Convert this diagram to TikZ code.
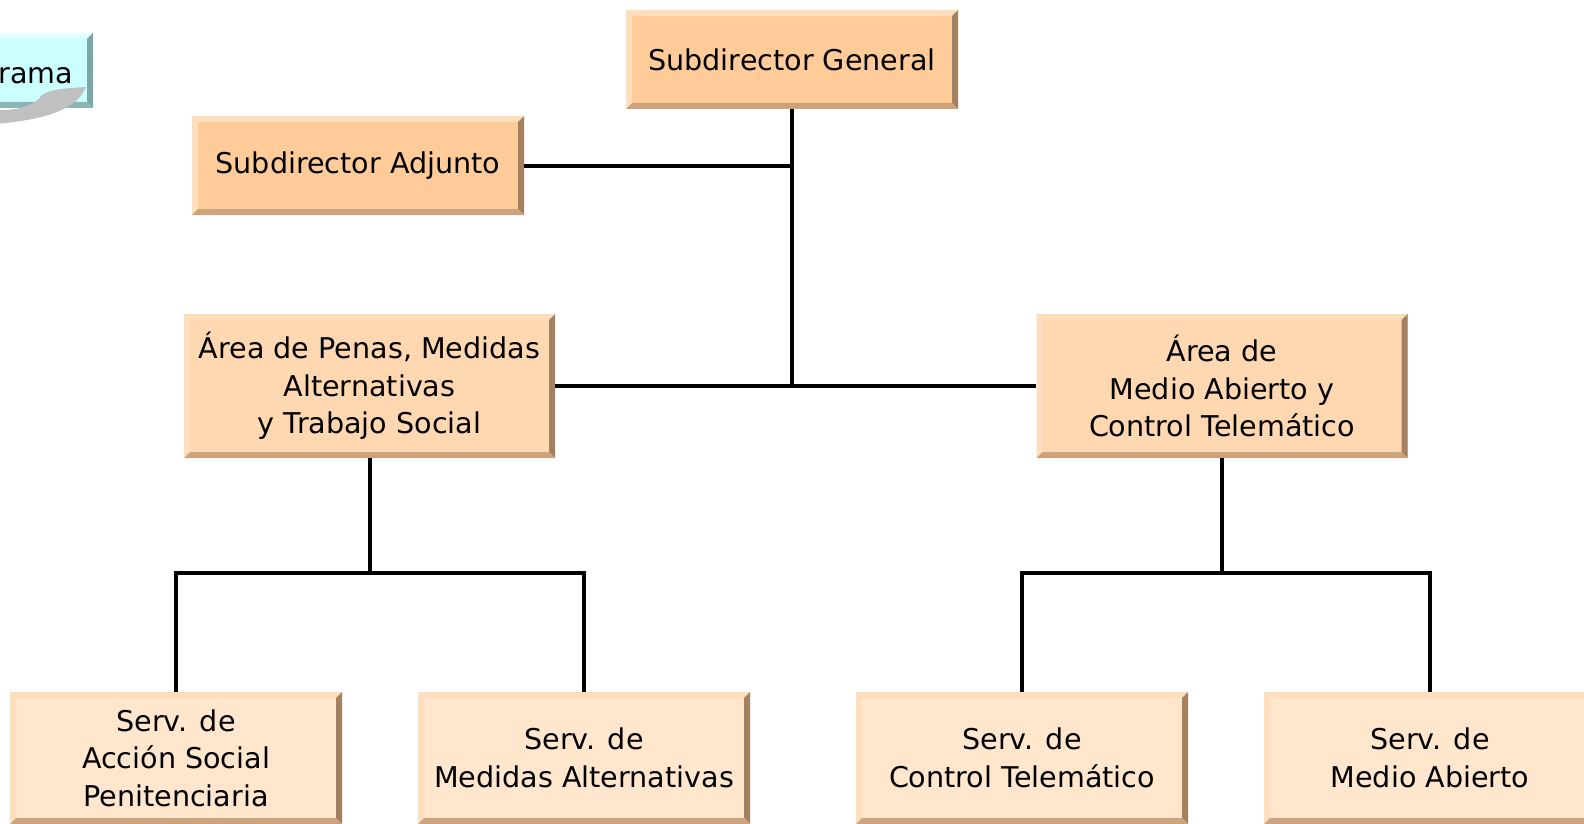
\documentclass[tikz,border=0pt]{standalone}
\usepackage{fontspec}
\setmainfont{DejaVu Sans}
\usepackage{xcolor}
\usepackage{tikz}
\usetikzlibrary{positioning,calc}
\definecolor{headfill}{RGB}{255,204,153}
\definecolor{areafill}{RGB}{255,216,178}
\definecolor{servfill}{RGB}{255,230,204}
\definecolor{bevlight}{RGB}{255,222,189}
\definecolor{bevdark}{RGB}{163,128,96}
\definecolor{bevbottom}{RGB}{204,163,122}
\definecolor{progfill}{RGB}{204,255,255}
\definecolor{proglight}{RGB}{228,255,255}
\definecolor{progdark}{RGB}{122,168,168}
\definecolor{curl}{RGB}{192,192,192}
\newcommand{\bv}{3pt}

\tikzset{
  bevelbox/.style n args={4}{fill=#1, inner sep=0pt, align=center,
    font=\fontsize{14.3pt}{18.7pt}\selectfont,
    path picture={
      \coordinate (bnw) at (path picture bounding box.north west);
      \coordinate (bne) at (path picture bounding box.north east);
      \coordinate (bsw) at (path picture bounding box.south west);
      \coordinate (bse) at (path picture bounding box.south east);
      % top and left bevel
      \fill[#2] (bnw) -- (bne) -- ([shift={(-\bv,-\bv)}]bne) -- ([shift={(\bv,-\bv)}]bnw) -- cycle;
      \fill[#2] (bnw) -- ([shift={(\bv,-\bv)}]bnw) -- ([shift={(\bv,\bv)}]bsw) -- (bsw) -- cycle;
      % right and bottom bevel
      \fill[#3] (bne) -- (bse) -- ([shift={(-\bv,\bv)}]bse) -- ([shift={(-\bv,-\bv)}]bne) -- cycle;
      \fill[#4] (bsw) -- ([shift={(\bv,\bv)}]bsw) -- ([shift={(-\bv,\bv)}]bse) -- (bse) -- cycle;
    }},
  orgbox/.style={bevelbox={#1}{bevlight}{bevdark}{bevbottom}},
  headbox/.style={orgbox=headfill, minimum width=166pt, minimum height=49.5pt},
  areabox/.style={orgbox=areafill, minimum width=185.5pt, minimum height=72pt},
  servbox/.style={orgbox=servfill, minimum width=166pt, minimum height=66pt},
  link/.style={line width=2pt, black},
}

\begin{document}
\begin{tikzpicture}[x=0.5pt, y=-0.5pt]
    \useasboundingbox (0,0) rectangle (1584,824);

    % Corner tab (cut off at the page edge)
    \node[bevelbox={progfill}{proglight}{progdark}{progdark!85}, minimum width=60pt,
        minimum height=37.5pt, text width=40pt, align=right] (prog) at (33,70.5)
        {\raisebox{-2.5pt}[\height][\depth]{rama}};
    \fill[curl] (-5,110) .. controls (20,111) and (35,105) .. (42,95)
        .. controls (50,89) and (70,88) .. (86,87)
        .. controls (78,106) and (55,119) .. (-5,124) -- cycle;

    % Direction
    \node[headbox] (gen) at (792,59.5) {Subdirector General};
    \node[headbox] (adj) at (358,165.5) {Subdirector Adjunto};

    % Areas
    \node[areabox] (areaPM) at (369.5,386) {Área de Penas, Medidas\\Alternativas\\y Trabajo Social};
    \node[areabox] (areaMA) at (1222,386) {Área de\\Medio Abierto y\\Control Telemático};

    % Services
    \node[servbox] (servAS) at (176,758) {Serv. de\\Acción Social\\Penitenciaria};
    \node[servbox] (servMA) at (584,758) {Serv. de\\Medidas Alternativas};
    \node[servbox] (servCT) at (1022,758) {Serv. de\\Control Telemático};
    \node[servbox] (servAb) at (1430,758) {Serv. de\\Medio Abierto};

    % Connectors
    \coordinate (hub) at (gen.south |- areaPM.east);
    \draw[link] (gen.south) -- (hub);
    \draw[link] (adj.east) -- (adj.east -| gen.south);
    \draw[link] (areaPM.east) -- (areaMA.west);

    \coordinate (forkPM) at (369.5,573);
    \draw[link] (areaPM.south) -- (forkPM);
    \draw[link] (servAS.north) |- (forkPM -| servMA.north) -- (servMA.north);

    \coordinate (forkMA) at (1222,573);
    \draw[link] (areaMA.south) -- (forkMA);
    \draw[link] (servCT.north) |- (forkMA -| servAb.north) -- (servAb.north);
\end{tikzpicture}
\end{document}
